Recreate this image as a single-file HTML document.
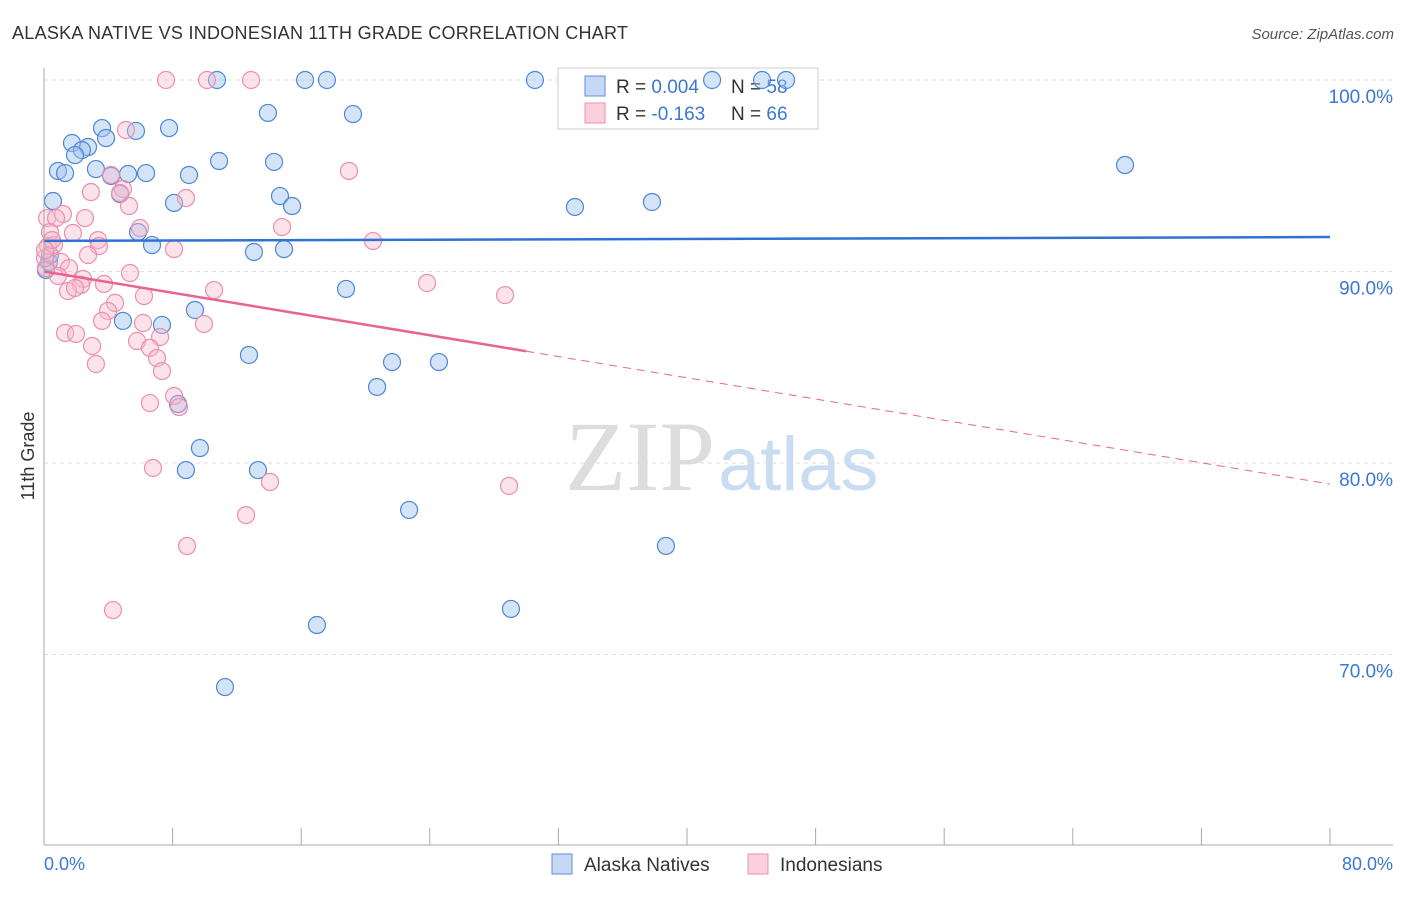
<!DOCTYPE html>
<html><head><meta charset="utf-8"><style>
body{margin:0;background:#fff;font-family:"Liberation Sans",sans-serif;}
</style></head><body>
<svg width="1406" height="892" xmlns="http://www.w3.org/2000/svg" id="chart">
<text x="12" y="39" font-size="18" fill="#333" textLength="616">ALASKA NATIVE VS INDONESIAN 11TH GRADE CORRELATION CHART</text>
<text x="1394" y="39" font-size="15" fill="#555" font-style="italic" text-anchor="end">Source: ZipAtlas.com</text>
<text x="715" y="490" font-size="100" fill="#ddd" text-anchor="end" font-family="Liberation Serif">ZIP</text>
<text x="718" y="490" font-size="76" fill="#c9dcf2">atlas</text>
<text x="34" y="456" font-size="18" fill="#333" text-anchor="middle" transform="rotate(-90 34 456)">11th Grade</text>
<g id="grid"></g>
<rect x="558" y="68" width="260" height="61" fill="#fff" stroke="#ccc"/>
<rect x="585" y="76" width="20" height="20" fill="#c5d9f5" stroke="#5b8fd9"/>
<rect x="585" y="103" width="20" height="20" fill="#fbd0dc" stroke="#ec8fac"/>
<text x="616" y="93" font-size="19" fill="#333">R = <tspan fill="#3a78d4">0.004</tspan></text>
<text x="731" y="93" font-size="19" fill="#333">N = <tspan fill="#3a78d4">58</tspan></text>
<text x="616" y="120" font-size="19" fill="#333">R = <tspan fill="#3a78d4">-0.163</tspan></text>
<text x="731" y="120" font-size="19" fill="#333">N = <tspan fill="#3a78d4">66</tspan></text>
<g id="pts"></g><g id="lines"></g>
<line x1="44" y1="68" x2="44" y2="845" stroke="#aaa"/>
<line x1="44" y1="845" x2="1393" y2="845" stroke="#aaa"/>
<text x="44" y="870" font-size="18" fill="#3a78d4">0.0%</text>
<text x="1393" y="870" font-size="18" fill="#3a78d4" text-anchor="end">80.0%</text>
<rect x="552" y="854" width="20" height="20" fill="#c5d9f5" stroke="#5b8fd9"/>
<text x="584" y="871" font-size="19" fill="#333">Alaska Natives</text>
<rect x="748" y="854" width="20" height="20" fill="#fbd0dc" stroke="#ec8fac"/>
<text x="780" y="871" font-size="19" fill="#333">Indonesians</text>
</svg>
<script>
const yTicks=[100,90,80,70];
const yTickLabels=["100.0%","90.0%","80.0%","70.0%"];
const xTicks=[0,8,16,24,32,40,48,56,64,72,80];
const bluePx=[[217,80],[305,80],[327,80],[535,80],[712,80],[762,80],[786,80],[268,113],[353,114],[102,128],[136,131],[169,128],[106,138],[72,143],[88,147],[82,150],[75,155],[219,161],[274,162],[1125,165],[58,171],[65,173],[96,169],[128,174],[146,173],[189,175],[111,176],[120,194],[280,196],[53,201],[174,203],[292,206],[575,207],[652,202],[138,232],[152,245],[254,252],[284,249],[49,262],[346,289],[195,310],[123,321],[162,325],[249,355],[392,362],[439,362],[377,387],[178,404],[200,448],[186,470],[258,470],[409,510],[666,546],[511,609],[317,625],[225,687],[50,255],[46,270]];
const pinkPx=[[166,80],[207,80],[251,80],[126,130],[349,171],[111,175],[123,189],[120,193],[91,192],[186,198],[129,206],[47,218],[63,214],[56,218],[85,218],[140,228],[282,227],[73,233],[50,232],[48,246],[98,240],[99,246],[54,245],[373,241],[174,249],[88,255],[61,262],[46,268],[130,273],[69,268],[58,276],[83,279],[81,285],[104,284],[427,283],[68,291],[75,288],[214,290],[505,295],[144,296],[115,303],[108,311],[102,321],[143,323],[204,324],[65,333],[76,334],[160,337],[92,346],[137,341],[150,348],[157,358],[162,371],[96,364],[174,396],[150,403],[179,407],[153,468],[270,482],[509,486],[246,515],[187,546],[113,610],[45,258],[52,240],[45,250]];
const blueX=bluePx.map(p=>+((p[0]-44)/1286*80).toFixed(2));
const blueY=bluePx.map(p=>+(100-(p[1]-80)/19.15).toFixed(2));
const pinkX=pinkPx.map(p=>+((p[0]-44)/1286*80).toFixed(2));
const pinkY=pinkPx.map(p=>+(100-(p[1]-80)/19.15).toFixed(2));
const blueTrend=[91.6,91.8];
const pinkTrend=[90.0,78.9];
const pinkSolidEnd=30;
const sx=v=>44+v/80*1286, sy=v=>80+(100-v)*19.15;
const NS="http://www.w3.org/2000/svg";
function mk(t,a,parent){const e=document.createElementNS(NS,t);for(const k in a)e.setAttribute(k,a[k]);document.getElementById(parent).appendChild(e);return e;}
yTicks.forEach((v,i)=>{
 const l=mk('line',{x1:44,x2:1393,y1:sy(v),y2:sy(v),stroke:'#ddd','stroke-dasharray':'4,4'},'grid');
 
 
 const t=mk('text',{x:1393,y:sy(v)+23,'font-size':19,fill:'#3a78d4','text-anchor':'end'},'grid');
 t.textContent=yTickLabels[i];
 
 
});
xTicks.forEach(v=>{
 const l=mk('line',{x1:sx(v),x2:sx(v),y1:828,y2:845,stroke:'#aaa'},'grid');
 
 
});
blueX.forEach((x,i)=>{
 const c=mk('circle',{cx:sx(x),cy:sy(blueY[i]),r:8.5,fill:'rgba(160,195,240,0.45)',stroke:'#4f86d6','stroke-width':1.2},'pts');
 
 
});
pinkX.forEach((x,i)=>{
 const c=mk('circle',{cx:sx(x),cy:sy(pinkY[i]),r:8.5,fill:'rgba(248,185,205,0.4)',stroke:'#ec8fac','stroke-width':1.2},'pts');
 
 
});
const bl=mk('line',{x1:sx(0),y1:sy(blueTrend[0]),x2:sx(80),y2:sy(blueTrend[1]),stroke:'#2f72d6','stroke-width':2.5},'lines');


const pm=pinkTrend[0]+(pinkTrend[1]-pinkTrend[0])*pinkSolidEnd/80;
const pl=mk('line',{x1:sx(0),y1:sy(pinkTrend[0]),x2:sx(pinkSolidEnd),y2:sy(pm),stroke:'#e8648f','stroke-width':2.5},'lines');


const pd=mk('line',{x1:sx(pinkSolidEnd),y1:sy(pm),x2:sx(80),y2:sy(pinkTrend[1]),stroke:'#e8648f','stroke-width':1,'stroke-dasharray':'8,6'},'lines');


</script>
</body></html>
